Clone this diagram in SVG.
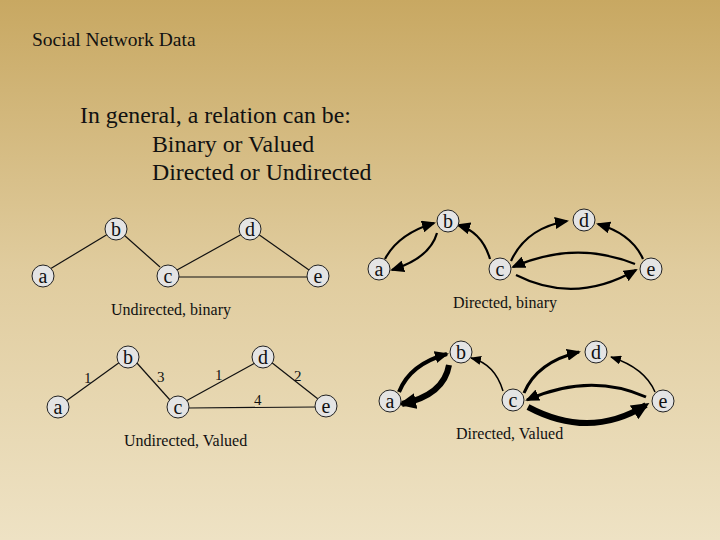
<svg xmlns="http://www.w3.org/2000/svg" width="720" height="540" viewBox="0 0 720 540">
<defs>
<linearGradient id="bg" x1="0" y1="0" x2="0" y2="1">
<stop offset="0" stop-color="#c8a862"/>
<stop offset="0.5" stop-color="#e0cc9e"/>
<stop offset="1" stop-color="#eee2c4"/>
</linearGradient>
<marker id="ah" markerUnits="userSpaceOnUse" markerWidth="14" markerHeight="12" refX="12" refY="6" orient="auto"><path d="M0,0 L14,6 L0,12 z" fill="#000"/></marker>
<marker id="ahs" markerUnits="userSpaceOnUse" markerWidth="11" markerHeight="9" refX="10" refY="4.5" orient="auto"><path d="M0,0 L11,4.5 L0,9 z" fill="#000"/></marker>
<marker id="ahl" markerUnits="userSpaceOnUse" markerWidth="18" markerHeight="16" refX="14" refY="8" orient="auto"><path d="M0,0 L18,8 L0,16 z" fill="#000"/></marker>
</defs>
<style>
text{font-family:"Liberation Serif","Times New Roman",serif;fill:#111}
.n circle{fill:#e4e4e4;stroke:#222;stroke-width:1}
.n text{font-size:20px;text-anchor:middle}
.e line{stroke:#111;stroke-width:1.2}
.d path{fill:none;stroke:#000}
.cap{font-size:16px}
.w{font-size:15px}
</style>
<rect width="720" height="540" fill="url(#bg)"/>
<text x="32" y="46" font-size="19.5">Social Network Data</text>
<text x="80" y="123" font-size="23.8">In general, a relation can be:</text>
<text x="152" y="152" font-size="23.8">Binary or Valued</text>
<text x="152" y="180" font-size="23.8">Directed or Undirected</text>

<g id="connectors">
<g class="e">
<line x1="50" y1="269" x2="108" y2="234"/><line x1="124" y1="235" x2="160" y2="267"/>
<line x1="177" y1="270" x2="242" y2="234"/><line x1="258" y1="234" x2="309" y2="270"/>
<line x1="178" y1="277" x2="308" y2="277"/>
<line x1="66" y1="401" x2="120" y2="362"/><line x1="136" y1="362" x2="170" y2="400"/>
<line x1="186" y1="401" x2="255" y2="363"/><line x1="271" y1="362" x2="318" y2="399"/>
<line x1="188" y1="408" x2="316" y2="407"/>
</g>
<g class="d">
<path d="M385,259 Q398,234 434,223" stroke-width="2.2" marker-end="url(#ah)"/>
<path d="M437,233 Q430,258 392,270" stroke-width="2.2" marker-end="url(#ah)"/>
<path d="M490,259 Q482,232 458,225" stroke-width="2.2" marker-end="url(#ah)"/>
<path d="M511,261 Q526,228 567,221" stroke-width="2.2" marker-end="url(#ah)"/>
<path d="M643,259 Q632,234 598,224" stroke-width="2.2" marker-end="url(#ah)"/>
<path d="M635,264 Q575,240 513,267" stroke-width="2.2" marker-end="url(#ah)"/>
<path d="M516,275 Q575,305 636,270" stroke-width="2.2" marker-end="url(#ah)"/>

<path d="M399,392 Q410,364 447,354" stroke-width="4" marker-end="url(#ah)"/>
<path d="M449,365 Q444,395 402,404" stroke-width="6" marker-end="url(#ahl)"/>
<path d="M503,391 Q495,364 471,358" stroke-width="1.5" marker-end="url(#ahs)"/>
<path d="M524,393 Q537,362 579,352" stroke-width="3" marker-end="url(#ah)"/>
<path d="M655,392 Q645,368 611,357" stroke-width="1.5" marker-end="url(#ahs)"/>
<path d="M646,397 Q590,372 527,400" stroke-width="3" marker-end="url(#ah)"/>
<path d="M528,407 Q590,440 646,405" stroke-width="6" marker-end="url(#ahl)"/>
</g>
</g>

<g id="ul-a" class="n"><circle cx="43" cy="276" r="11"/><text x="43" y="283">a</text></g>
<g id="ul-b" class="n"><circle cx="116" cy="229" r="11"/><text x="116" y="236">b</text></g>
<g id="ul-c" class="n"><circle cx="168" cy="276" r="11"/><text x="168" y="283">c</text></g>
<g id="ul-d" class="n"><circle cx="250" cy="229" r="11"/><text x="250" y="236">d</text></g>
<g id="ul-e" class="n"><circle cx="318" cy="276" r="11"/><text x="318" y="283">e</text></g>
<text class="cap" x="111" y="315">Undirected, binary</text>

<g id="uv-a" class="n"><circle cx="58" cy="407" r="11"/><text x="58" y="414">a</text></g>
<g id="uv-b" class="n"><circle cx="128" cy="357" r="11"/><text x="128" y="364">b</text></g>
<g id="uv-c" class="n"><circle cx="178" cy="407" r="11"/><text x="178" y="414">c</text></g>
<g id="uv-d" class="n"><circle cx="263" cy="357" r="11"/><text x="263" y="364">d</text></g>
<g id="uv-e" class="n"><circle cx="326" cy="406" r="11"/><text x="326" y="413">e</text></g>
<text class="w" x="84" y="383">1</text><text class="w" x="157" y="382">3</text>
<text class="w" x="215" y="380">1</text><text class="w" x="294" y="381">2</text>
<text class="w" x="254" y="405">4</text>
<text class="cap" x="124" y="446">Undirected, Valued</text>

<g id="db-a" class="n"><circle cx="379" cy="269" r="11"/><text x="379" y="276">a</text></g>
<g id="db-b" class="n"><circle cx="448" cy="221" r="11"/><text x="448" y="228">b</text></g>
<g id="db-c" class="n"><circle cx="500" cy="269" r="11"/><text x="500" y="276">c</text></g>
<g id="db-d" class="n"><circle cx="584" cy="220" r="11"/><text x="584" y="227">d</text></g>
<g id="db-e" class="n"><circle cx="651" cy="269" r="11"/><text x="651" y="276">e</text></g>
<text class="cap" x="453" y="308">Directed, binary</text>

<g id="dv-a" class="n"><circle cx="390" cy="401" r="11"/><text x="390" y="408">a</text></g>
<g id="dv-b" class="n"><circle cx="461" cy="352" r="11"/><text x="461" y="359">b</text></g>
<g id="dv-c" class="n"><circle cx="513" cy="400" r="11"/><text x="513" y="407">c</text></g>
<g id="dv-d" class="n"><circle cx="596" cy="352" r="11"/><text x="596" y="359">d</text></g>
<g id="dv-e" class="n"><circle cx="663" cy="401" r="11"/><text x="663" y="408">e</text></g>
<text class="cap" x="456" y="439">Directed, Valued</text>
</svg>
